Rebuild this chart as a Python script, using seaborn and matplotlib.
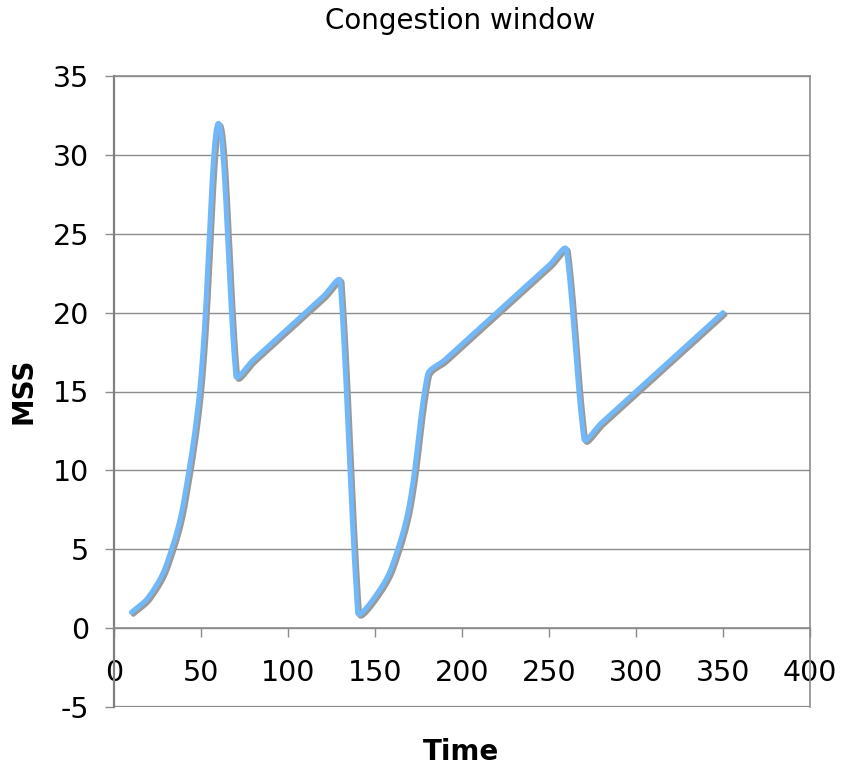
import numpy as np
import pandas as pd
import matplotlib
matplotlib.use("Agg")
import matplotlib.pyplot as plt
import matplotlib.patheffects as pe
import seaborn as sns

# ---- data ----
time = [10, 20, 30, 40, 50, 60, 70, 80, 90, 100, 110, 120, 130,
        140, 150, 160, 170, 180, 190, 200, 210, 220, 230, 240, 250, 260,
        270, 280, 290, 300, 310, 320, 330, 340, 350]
mss = [1, 2, 4, 8, 16, 32, 16, 17, 18, 19, 20, 21, 22,
       1, 2, 4, 8, 16, 17, 18, 19, 20, 21, 22, 23, 24,
       12, 13, 14, 15, 16, 17, 18, 19, 20]
x_ticks = [0, 50, 100, 150, 200, 250, 300, 350, 400]
y_ticks = [-5, 0, 5, 10, 15, 20, 25, 30, 35]
title = "Congestion window"
x_label = "Time"
y_label = "MSS"


def smooth(xs, ys, kx=1.74, ky=15.77, k=0.36, pw=0.5, n=40):
    """Excel-style smoothed line rendering: cubic Bezier pieces through the
    data points, tangents weighted toward the longer neighbouring segment
    (computed in screen space)."""
    p = np.column_stack([np.asarray(xs, float) * kx, np.asarray(ys, float) * ky])
    m = len(p)
    c_in = p.copy()
    c_out = p.copy()
    for i in range(m):
        a = p[i - 1] if i > 0 else p[i]
        b = p[i + 1] if i < m - 1 else p[i]
        vp, vn = p[i] - a, b - p[i]
        dp, dn = np.hypot(*vp), np.hypot(*vn)
        tot = dp + dn
        if tot == 0:
            continue
        direc = vp * dp ** pw + vn * dn ** pw
        nd = np.hypot(*direc)
        if nd == 0:
            continue
        u = direc / nd
        mag = np.hypot(*(b - a))
        c_out[i] = p[i] + u * mag * k * dn / tot
        c_in[i] = p[i] - u * mag * k * dp / tot
    t = np.linspace(0, 1, n, endpoint=False)[:, None]
    out = []
    for i in range(m - 1):
        p1, c1, c2, p2 = p[i], c_out[i], c_in[i + 1], p[i + 1]
        seg = ((1 - t) ** 3) * p1 + 3 * ((1 - t) ** 2) * t * c1 \
            + 3 * (1 - t) * t ** 2 * c2 + t ** 3 * p2
        out.append(seg)
    out.append(p[-1][None, :])
    out = np.vstack(out)
    return out[:, 0] / kx, out[:, 1] / ky


sx, sy = smooth(time, mss)
df = pd.DataFrame({"Time": sx, "MSS": sy})

sns.set_theme(style="white")
plt.rcParams["font.family"] = ["DejaVu Sans"]
plt.rcParams["text.color"] = "black"

fig = plt.figure(figsize=(8.44, 7.72), dpi=100)
ax = fig.add_axes([114 / 844, 1 - 707 / 772, (810 - 114) / 844, (707 - 76) / 772])

grid_c = "#8c8c8c"
sns.lineplot(data=df, x="Time", y="MSS", ax=ax, color="#72b8f8",
             linewidth=3.6, sort=False, estimator=None)
for l in ax.lines:
    l.set_solid_capstyle("round")
    l.set_solid_joinstyle("round")
    l.set_path_effects([pe.SimpleLineShadow(offset=(1.4, -1.4), shadow_color="#9a9a9a", alpha=1.0),
                        pe.Normal()])

ax.set_xlim(0, 400)
ax.set_ylim(-5, 35)
ax.set_xticks(x_ticks)
ax.set_yticks(y_ticks)
ax.set_xticklabels([str(v) for v in x_ticks])
ax.set_yticklabels([str(v) for v in y_ticks])

ax.yaxis.grid(True, color=grid_c, linewidth=1.0)
ax.xaxis.grid(False)
ax.set_axisbelow(True)

for s in ["top", "right", "left"]:
    ax.spines[s].set_color(grid_c)
    ax.spines[s].set_linewidth(1.2)
ax.spines["left"].set_color("#808080")
ax.spines["left"].set_linewidth(1.6)
ax.spines["bottom"].set_position(("data", 0))
ax.spines["bottom"].set_color(grid_c)
ax.spines["bottom"].set_linewidth(1.2)
ax.axhline(-5, color=grid_c, linewidth=1.6, zorder=0.5)

ax.tick_params(axis="x", direction="out", length=6.5, width=1.0, color=grid_c,
               pad=15.5, labelsize=20.5, labelcolor="black", bottom=True)
ax.tick_params(axis="y", direction="out", length=6.5, width=1.0, color=grid_c,
               pad=11.5, labelsize=20.5, labelcolor="black", left=True)

ax.set_xlabel("")
ax.set_ylabel("")
fig.text(461 / 844, 1 - 752 / 772, x_label, ha="center", va="center",
         fontsize=20, fontweight="bold", color="black")
fig.text(23 / 844, 1 - 391 / 772, y_label, ha="center", va="center",
         fontsize=20, fontweight="bold", rotation=90, color="black")
fig.text(460 / 844, 1 - 21 / 772, title, ha="center", va="center",
         fontsize=20, color="black")

fig.savefig("out.png", dpi=100, facecolor="white")
